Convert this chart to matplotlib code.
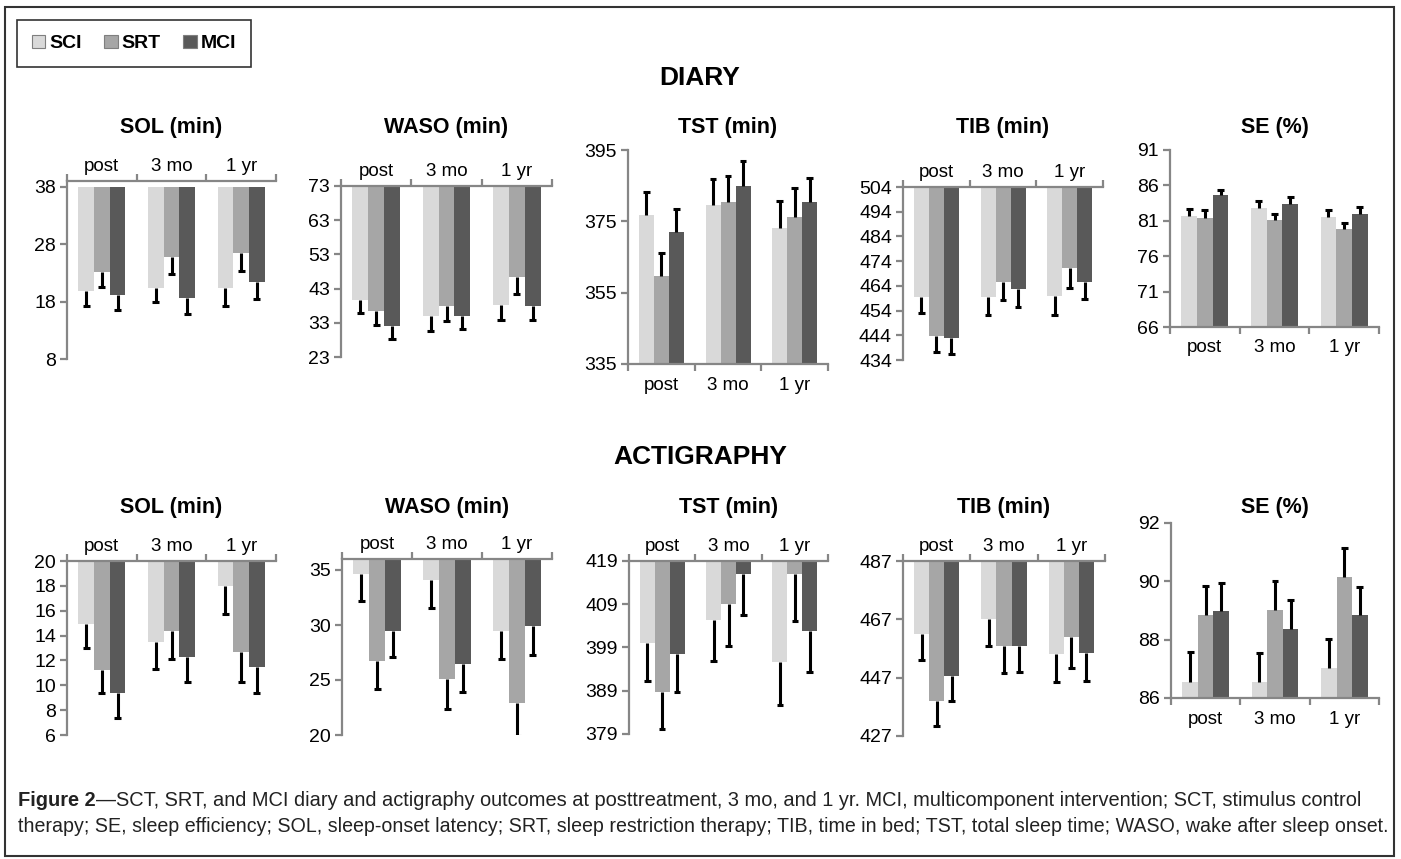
import matplotlib
matplotlib.use("Agg")
import matplotlib.pyplot as plt
import numpy as np
from matplotlib.patches import Rectangle

plt.rcParams['font.family'] = ['Liberation Sans', 'DejaVu Sans']

groups = ['SCI', 'SRT', 'MCI']
times = ['post', '3 mo', '1 yr']

# ---- data (rows: SCI, SRT, MCI; cols: post, 3 mo, 1 yr) ----
diary_sol = [[19.9, 20.3, 20.3], [23.1, 25.7, 26.4], [19.2, 18.6, 21.4]]
diary_sol_err = [[2.7, 2.4, 3.0], [2.6, 2.9, 3.0], [2.7, 2.8, 2.9]]
diary_waso = [[39.8, 34.9, 38.1], [36.4, 37.8, 46.3], [32.0, 34.9, 37.8]]
diary_waso_err = [[3.9, 4.4, 4.2], [3.9, 4.4, 4.8], [3.7, 3.6, 3.9]]
diary_tst = [[376.7, 379.5, 373.0], [359.8, 380.3, 376.3], [371.9, 384.8, 380.4]]
diary_tst_err = [[6.5, 7.3, 7.8], [6.3, 7.3, 8.0], [6.5, 7.1, 6.7]]
diary_tib = [[459.3, 459.3, 459.9], [443.9, 465.5, 471.4], [442.8, 462.6, 465.5]]
diary_tib_err = [[6.4, 7.1, 7.7], [6.8, 7.4, 8.3], [6.4, 7.0, 6.8]]
diary_se = [[81.7, 82.75, 81.6], [81.4, 81.1, 79.9], [84.6, 83.35, 81.9]]
diary_se_err = [[1.0, 1.05, 0.9], [1.1, 0.8, 0.8], [0.7, 0.95, 1.0]]

act_sol = [[14.9, 13.5, 18.0], [11.2, 14.4, 12.65], [9.4, 12.3, 11.5]]
act_sol_err = [[1.9, 2.2, 2.3], [1.8, 2.3, 2.35], [2.0, 2.0, 2.1]]
act_waso = [[34.67, 34.06, 29.5], [26.7, 25.1, 22.9], [29.5, 26.5, 29.95]]
act_waso_err = [[2.47, 2.56, 2.6], [2.5, 2.7, 3.0], [2.4, 2.6, 2.65]]
act_tst = [[400.0, 405.4, 395.7], [388.8, 409.0, 416.1], [397.4, 416.1, 402.7]]
act_tst_err = [[8.7, 9.5, 10.1], [8.7, 9.6, 11.0], [8.8, 9.6, 9.4]]
act_tib = [[461.9, 467.0, 455.0], [439.1, 458.0, 460.9], [447.6, 458.0, 455.5]]
act_tib_err = [[8.8, 9.1, 9.6], [8.6, 9.5, 10.7], [8.5, 9.1, 9.6]]
act_se = [[86.55, 86.55, 87.04], [88.85, 89.03, 90.14], [88.97, 88.37, 88.83]]
act_se_err = [[1.03, 0.99, 0.98], [1.0, 0.99, 0.99], [0.99, 1.0, 0.97]]

colors = ['#d9d9d9', '#a6a6a6', '#595959']
axis_gray = '#868686'

W, H = 1401, 859
fig = plt.figure(figsize=(W / 100, H / 100), dpi=100)


def rect(x0, x1, ytop, ybot):
    return [x0 / W, 1 - ybot / H, (x1 - x0) / W, (ybot - ytop) / H]


# (title, means, errs, ylim, yticks, base, pixel box, title y)
panels = [
    ('SOL (min)', diary_sol, diary_sol_err, (8, 39), np.arange(8, 39, 10), 38, (67, 276, 181, 359), 128),
    ('WASO (min)', diary_waso, diary_waso_err, (23, 73), np.arange(23, 74, 10), 73, (341, 552, 186, 357), 128),
    ('TST (min)', diary_tst, diary_tst_err, (335, 395), np.arange(335, 396, 20), 335, (628, 828, 150, 364), 128),
    ('TIB (min)', diary_tib, diary_tib_err, (434, 504), np.arange(434, 505, 10), 504, (903, 1103, 187, 360), 128),
    ('SE (%)', diary_se, diary_se_err, (66, 91), np.arange(66, 92, 5), 66, (1170, 1379, 150, 327), 128),
    ('SOL (min)', act_sol, act_sol_err, (6, 20), np.arange(6, 21, 2), 20, (67, 276, 561, 735), 508),
    ('WASO (min)', act_waso, act_waso_err, (20, 36), np.arange(20, 36, 5), 36, (342, 552, 559, 735), 508),
    ('TST (min)', act_tst, act_tst_err, (379, 419), np.arange(379, 420, 10), 419, (629, 828, 561, 734), 508),
    ('TIB (min)', act_tib, act_tib_err, (427, 487), np.arange(427, 488, 20), 487, (903, 1105, 561, 736), 508),
    ('SE (%)', act_se, act_se_err, (86, 92), np.arange(86, 93, 2), 86, (1171, 1379, 523, 698), 508),
]

w = 0.225
x = np.arange(len(times))
handles = None
for title, means, errs, ylim, yticks, base, box, ty in panels:
    ax = fig.add_axes(rect(*box))
    hanging = base > ylim[0] + 0.5 * (ylim[1] - ylim[0])
    bars = []
    for j, g in enumerate(groups):
        m = np.array(means[j])
        e = np.array(errs[j])
        xs = x + (j - 1) * w
        b = ax.bar(xs, m - base, bottom=base, width=w, color=colors[j],
                   edgecolor='none', label=g, zorder=2)
        bars.append(b)
        sign = np.sign(m - base)
        ends = m + sign * e
        ax.vlines(xs, m, ends, color='black', lw=2.2, zorder=3)
        ax.hlines(ends, xs - 0.05, xs + 0.05, color='black', lw=2.2, zorder=3)
    if handles is None:
        handles = bars
    ax.set_xlim(-0.5, 2.5)
    ax.set_ylim(*ylim)
    ax.set_yticks(yticks)
    ax.set_xticks([-0.5, 0.5, 1.5, 2.5])
    ax.set_xticklabels([])
    ax.set_xticks(x, minor=True)
    ax.set_xticklabels(times, minor=True)
    for s in ax.spines.values():
        s.set_visible(False)
    side = 'top' if hanging else 'bottom'
    for sp in ['left', side]:
        ax.spines[sp].set_visible(True)
        ax.spines[sp].set_color(axis_gray)
        ax.spines[sp].set_linewidth(1.6)
    if hanging:
        ax.xaxis.tick_top()
    ax.tick_params(axis='x', which='major', length=5, width=1.6, color=axis_gray)
    ax.tick_params(axis='x', which='minor', length=0, labelsize=13.5,
                   pad=4 if hanging else 9)
    ax.tick_params(axis='y', length=5, width=1.6, color=axis_gray, labelsize=14, pad=3)
    ax.patch.set_alpha(0)
    cx = (box[0] + box[1]) / 2
    fig.text(cx / W, 1 - ty / H, title, ha='center', va='center',
             fontsize=15.5, fontweight='bold')

fig.text(700 / W, 1 - 78 / H, 'DIARY', ha='center', va='center', fontsize=19, fontweight='bold')
fig.text(700 / W, 1 - 457 / H, 'ACTIGRAPHY', ha='center', va='center', fontsize=19, fontweight='bold')

leg = fig.legend(handles, groups, loc='upper left', ncol=3,
                 bbox_to_anchor=(17 / W, 1 - 20 / H), borderaxespad=0,
                 frameon=True, fancybox=False,
                 handlelength=0.7, handleheight=0.7, handletextpad=0.2,
                 columnspacing=1.15, borderpad=0.75,
                 prop={'weight': 'bold', 'size': 14})
leg.get_frame().set_edgecolor('black')
leg.get_frame().set_linewidth(1.2)
for p in leg.get_patches():
    p.set_edgecolor('#7f7f7f')
    p.set_linewidth(0.8)

# outer frame
fig.patches.append(Rectangle((5 / W, 1 - 856 / H), (1394 - 5) / W, (856 - 7) / H,
                             transform=fig.transFigure, fill=False, edgecolor='#333333', lw=1.5))

# caption
fig.canvas.draw()
r = fig.canvas.get_renderer()
t1 = fig.text(18 / W, 1 - 800 / H, 'Figure 2', fontsize=14.4, fontweight='bold',
              va='center', ha='left', color='#222222')
bb = t1.get_window_extent(renderer=r)
fig.text(bb.x1 / W, 1 - 800 / H,
         '\u2014SCT, SRT, and MCI diary and actigraphy outcomes at posttreatment, 3 mo, and 1 yr. '
         'MCI, multicomponent intervention; SCT, stimulus control',
         fontsize=14.4, va='center', ha='left', color='#222222')
fig.text(18 / W, 1 - 826 / H,
         'therapy; SE, sleep efficiency; SOL, sleep-onset latency; SRT, sleep restriction therapy; '
         'TIB, time in bed; TST, total sleep time; WASO, wake after sleep onset.',
         fontsize=14.1, va='center', ha='left', color='#222222')

fig.savefig('out.png', dpi=100)
